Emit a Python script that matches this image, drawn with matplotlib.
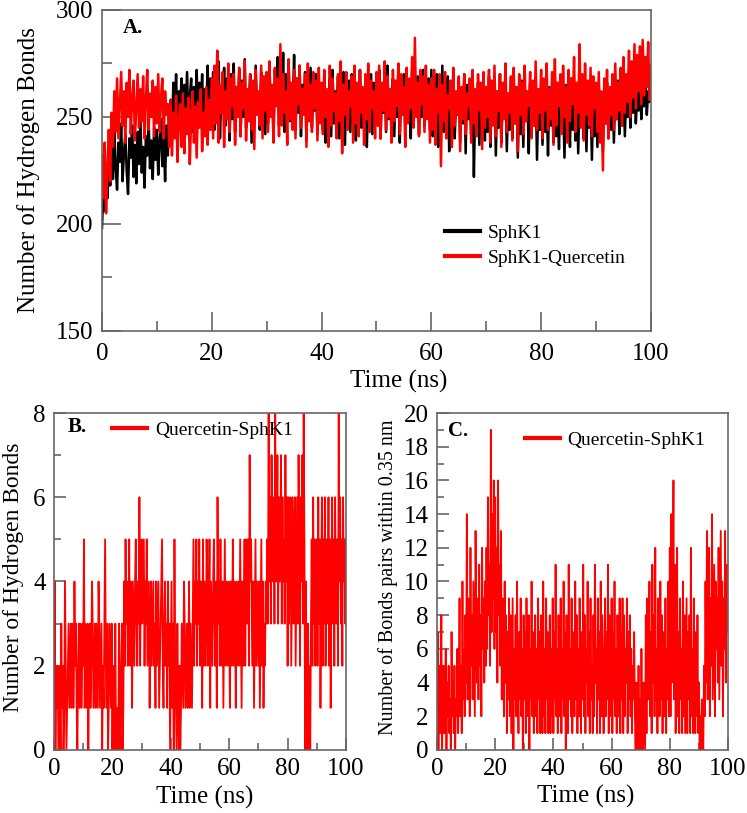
import numpy as np
import matplotlib.pyplot as plt
from matplotlib.ticker import MultipleLocator

plt.rcParams["font.family"] = ["Liberation Serif", "DejaVu Serif"]

# Panel A - number of hydrogen bonds of the protein (~0.25 ns apart)
sphk1_hb = [
    198, 215, 206, 224, 212, 229, 218, 236, 221, 244, 226, 216, 238, 229, 247, 220, 233, 242, 225, 214,
    240, 231, 246, 222, 237, 219, 243, 228, 250, 224, 236, 217, 241, 232, 248, 226, 239, 221, 245, 230,
    244, 223, 238, 249, 227, 241, 220, 246, 232, 252, 258, 240, 266, 249, 270, 244, 262, 255, 268, 241,
    265, 250, 271, 246, 259, 268, 243, 264, 252, 272, 247, 266, 255, 270, 242, 263, 251, 274, 245, 268,
    250, 271, 244, 266, 256, 276, 240, 262, 252, 273, 246, 268, 258, 239, 270, 249, 275, 243, 264, 254,
    272, 241, 267, 250, 277, 245, 262, 255, 270, 238, 266, 248, 274, 252, 261, 244, 271, 256, 268, 242,
    269, 247, 275, 253, 264, 240, 272, 257, 278, 246, 266, 251, 280, 243, 270, 258, 276, 248, 263, 254,
    279, 244, 268, 252, 274, 241, 265, 256, 271, 239, 267, 249, 273, 245, 262, 253, 270, 242, 266, 250,
    264, 244, 270, 238, 259, 250, 268, 241, 272, 247, 262, 253, 269, 240, 266, 248, 271, 237, 260, 252,
    267, 243, 270, 249, 258, 239, 265, 254, 272, 245, 263, 250, 268, 236, 261, 247, 270, 242, 266, 251,
    269, 246, 272, 240, 263, 252, 270, 243, 274, 249, 261, 255, 268, 241, 266, 250, 273, 238, 264, 253,
    270, 245, 267, 251, 262, 240, 271, 248, 265, 254, 269, 242, 263, 250, 272, 246, 260, 253, 268, 244,
    272, 241, 266, 250, 270, 236, 262, 248, 274, 243, 264, 252, 269, 234, 261, 246, 271, 240, 258, 251,
    267, 238, 263, 247, 270, 233, 265, 249, 260, 242, 268, 222, 259, 245, 266, 237, 263, 250, 270, 239,
    264, 243, 269, 236, 260, 248, 266, 232, 262, 245, 270, 238, 258, 250, 265, 234, 261, 244, 268, 240,
    257, 247, 264, 231, 260, 242, 267, 236, 262, 249, 258, 233, 266, 241, 260, 246, 263, 230, 259, 244,
    262, 237, 266, 243, 258, 232, 264, 246, 260, 238, 267, 241, 256, 235, 263, 248, 259, 231, 265, 242,
    261, 236, 268, 244, 257, 239, 264, 233, 260, 247, 266, 240, 258, 234, 262, 245, 259, 230, 264, 241,
    260, 236, 265, 243, 258, 234, 262, 247, 266, 240, 259, 244, 264, 238, 261, 249, 267, 242, 260, 246,
    265, 241, 262, 250, 268, 245, 263, 252, 266, 247, 261, 253, 268, 249, 264, 255, 267, 251, 262, 257,
    258,
]
complex_hb = [
    232, 212, 238, 205, 226, 244, 220, 252, 236, 262, 243, 268, 240, 256, 271, 246, 262, 238, 266, 250,
    272, 242, 259, 267, 239, 255, 270, 245, 263, 248, 269, 240, 258, 272, 244, 261, 250, 267, 241, 264,
    247, 270, 243, 259, 268, 240, 262, 251, 256, 236, 258, 232, 252, 240, 260, 229, 248, 256, 236, 261,
    233, 254, 242, 259, 228, 250, 262, 238, 255, 231, 257, 245, 263, 234, 252, 241, 264, 237, 258, 244,
    268, 240, 274, 247, 281, 238, 265, 252, 271, 236, 262, 249, 275, 243, 268, 255, 270, 237, 264, 250,
    273, 241, 266, 254, 276, 239, 263, 248, 270, 244, 267, 235, 272, 251, 262, 246, 274, 240, 269, 253,
    271, 243, 276, 250, 265, 238, 273, 255, 268, 241, 284, 246, 270, 252, 262, 237, 277, 249, 266, 244,
    272, 240, 268, 256, 274, 245, 263, 251, 270, 236, 275, 248, 265, 243, 271, 254, 267, 239, 273, 247,
    266, 242, 272, 250, 263, 236, 274, 246, 268, 253, 261, 240, 270, 248, 276, 233, 265, 251, 271, 244,
    262, 255, 269, 238, 274, 247, 266, 241, 272, 252, 264, 237, 270, 249, 275, 243, 267, 254, 262, 240,
    271, 246, 274, 240, 266, 253, 276, 244, 269, 250, 263, 238, 272, 248, 267, 255, 275, 242, 270, 251,
    264, 236, 273, 247, 268, 254, 278, 245, 287, 250, 266, 241, 272, 256, 269, 243, 274, 249, 265, 238,
    268, 244, 272, 237, 263, 252, 270, 227, 265, 248, 271, 240, 260, 254, 267, 236, 273, 246, 262, 251,
    269, 234, 264, 249, 270, 242, 261, 255, 268, 238, 272, 247, 263, 241, 270, 253, 266, 235, 271, 245,
    264, 250, 272, 238, 267, 246, 274, 241, 262, 253, 270, 236, 266, 249, 275, 243, 261, 252, 269, 239,
    273, 247, 264, 234, 270, 251, 266, 242, 274, 248, 262, 255, 271, 240, 267, 246, 276, 244, 263, 252,
    272, 240, 268, 253, 275, 244, 263, 249, 271, 237, 277, 246, 266, 255, 270, 242, 274, 250, 264, 238,
    272, 248, 268, 256, 278, 243, 266, 252, 284, 245, 270, 239, 275, 251, 267, 246, 273, 241, 269, 254,
    266, 243, 271, 238, 262, 225, 268, 247, 272, 240, 264, 251, 270, 244, 275, 249, 266, 253, 273, 246,
    278, 252, 270, 257, 281, 250, 276, 259, 284, 254, 279, 262, 283, 256, 286, 260, 278, 264, 285, 258,
    274,
]

# Panel B - quercetin/SphK1 hydrogen bonds (~0.25 ns apart)
lig_hb = [
    1, 4, 0, 2, 1, 2, 0, 1, 2, 0, 3, 1, 2, 0, 1, 4, 2, 0, 1, 2,
    3, 1, 2, 3, 1, 3, 2, 1, 4, 2, 3, 1, 0, 2, 3, 1, 3, 2, 1, 3,
    2, 5, 1, 3, 2, 1, 3, 0, 2, 3, 1, 2, 4, 3, 1, 2, 3, 1, 3, 2,
    1, 4, 3, 1, 2, 3, 0, 2, 1, 3, 5, 2, 1, 3, 0, 1, 3, 2, 1, 3,
    0, 2, 1, 0, 3, 0, 1, 0, 0, 3, 1, 0, 2, 3, 0, 1,
    4, 2, 5, 3, 4, 2, 3, 5, 2, 4, 3, 1, 4, 3, 2, 4, 5, 3, 2, 4, 3, 6, 2, 4,
    5, 3, 4, 5, 2, 4, 3, 5, 2, 3, 4, 1, 3, 4, 2, 3,
    4, 2, 3, 1, 4, 2, 3, 4, 1, 2, 3, 4, 5, 2, 1, 3, 4, 2, 3, 1, 4, 2, 3, 0,
    2, 4, 1, 3, 0, 5, 2, 1, 0, 3, 1, 0, 2, 0, 1, 3, 2, 1, 4, 3,
    1, 2, 3, 1, 2, 4, 1, 3, 2, 1, 3, 5, 2, 4, 3, 5, 2, 4, 3, 5,
    2, 4, 3, 1, 5, 2, 4, 3, 2, 5, 4, 2, 3, 5, 1, 4, 3, 2, 4, 5,
    3, 2, 4, 1, 6, 3, 4, 2, 5, 3, 2, 4, 1, 3, 5, 2, 4, 3, 2, 4,
    3, 1, 4, 2, 3, 5, 2, 4, 3, 1, 4, 2, 3, 4, 2, 5, 3, 1, 4, 2,
    3, 5, 2, 4, 5, 3, 5, 2, 7, 4, 5, 3, 2, 4, 1, 3, 5, 2, 4, 3,
    2, 4, 1, 3, 5, 2, 4, 1, 3, 2, 4, 3,
    5, 3, 8, 4, 6, 3, 7, 5, 4, 6, 3, 8, 5, 4, 7, 3, 6, 4, 5, 7, 3, 6, 4, 5, 3, 7, 4, 6,
    2, 6, 3, 5, 6, 2, 4, 6, 3, 5, 6, 2, 4, 6, 3, 7, 5, 2, 6, 4,
    7, 3, 8, 5, 0, 4, 1, 0, 3, 0, 2, 0, 3, 5, 2, 6, 3, 5, 2, 4,
    5, 2, 6, 3, 5, 1, 4, 6, 2, 5, 3, 6, 2, 4, 5, 3, 6, 2, 5, 1,
    4, 6, 3, 5, 2, 6, 4, 3, 5, 2, 8, 4, 6, 3, 5, 2, 6, 4, 5, 3,
    5,
]

# Panel C - atom pairs within 0.35 nm (~0.25 ns apart)
pairs_035 = [
    2, 7, 0, 5,
    1, 4, 8, 0, 3, 5, 1, 2, 6, 0, 4, 2, 5, 1, 3, 0, 7, 2, 4, 1, 5, 0, 3, 2,
    6, 1, 4, 9, 2, 5, 1, 10, 3, 6, 2, 8,
    4, 14, 3, 9, 6, 2, 12, 5, 8, 3, 10, 6, 2, 13, 7, 4, 9, 3, 11, 5, 8, 2, 12, 6, 9, 4, 10, 5,
    12, 6, 15, 8, 11, 5, 19, 7, 14, 9, 16, 6,
    15, 7, 12, 4, 16, 8, 11, 5,
    13, 3, 9, 6, 2, 10, 4, 8, 1, 7, 3, 9,
    2, 8, 1, 5, 9, 0, 6, 3, 8, 2, 10, 4, 1, 7, 3, 9, 2, 6, 0, 8,
    3, 7, 1, 9, 4, 2, 8, 0, 6, 3, 10, 2, 7, 1, 5, 8, 2, 6, 1, 9,
    3, 7, 1, 8, 4, 1, 10, 2, 6, 1, 9, 3, 7, 1, 5, 8, 1, 6, 2, 9,
    1, 7, 3, 11, 2, 6, 1, 8, 4, 2, 9, 1, 6, 3, 10, 2, 7, 0, 8, 4,
    1, 11, 3, 6, 2, 9, 1, 7, 4, 2, 10, 3, 8, 1, 6, 2, 9, 4, 1, 7,
    3, 11, 2, 8, 1, 6, 4, 10, 2, 7, 1, 9, 3, 5, 1, 8, 2, 11, 4, 6,
    1, 9, 3, 7, 1, 10, 2, 8, 4, 1, 6, 9, 2, 7, 3, 11, 1, 8, 5, 2,
    9, 1, 7, 3, 10, 2, 6, 1, 8, 4, 2, 9, 1, 7, 3, 9, 1, 8, 2, 6,
    4, 9, 1, 7, 3, 8, 2, 6, 1, 5, 3, 7,
    2, 0, 4, 1, 0, 5, 0, 3,
    0, 6, 1, 0, 4, 2, 0, 8,
    1, 9, 3, 6, 10, 2, 7, 1, 11, 4, 8, 2, 12, 3, 6, 1, 9, 5, 2, 10,
    3, 8, 1, 7, 4, 2, 9, 1, 6, 3, 10, 2,
    12, 2, 14, 4, 9, 16, 3, 11, 1, 8, 12, 2,
    7, 1, 9, 3, 6, 1, 10, 2, 8, 1, 5, 9, 1, 7, 3, 8, 1, 12, 2, 6,
    1, 9, 4, 1, 7, 2, 8, 1,
    4, 0, 2, 0, 3, 1, 0, 5,
    2, 10, 4, 13, 3, 8, 12, 2, 9, 5, 14, 3, 7, 11, 2, 10, 6, 9, 4, 12,
    3, 8, 13, 5, 10, 2, 9, 6, 13, 4, 11, 7, 9,
]

labels_a = ["SphK1", "SphK1-Quercetin"]
label_bc = "Quercetin-SphK1"

SPINE = "#666666"
RED = "#ff0000"


def style_axes(ax, xmaj, xmin, ymaj, ymin, maj_len, min_len, xpad=6):
    for s in ax.spines.values():
        s.set_color(SPINE)
        s.set_linewidth(1.2)
    ax.xaxis.set_major_locator(MultipleLocator(xmaj))
    ax.xaxis.set_minor_locator(MultipleLocator(xmin))
    ax.yaxis.set_major_locator(MultipleLocator(ymaj))
    ax.yaxis.set_minor_locator(MultipleLocator(ymin))
    ax.tick_params(which="both", direction="in", top=False, right=False,
                   color=SPINE, width=1.2, labelsize=18, pad=6)
    ax.tick_params(axis="x", which="both", pad=xpad)
    ax.tick_params(which="major", length=maj_len)
    ax.tick_params(which="minor", length=min_len)


def add_legend(ax, anchor, spacing=0.25):
    leg = ax.legend(loc="upper left", bbox_to_anchor=anchor, frameon=False,
                    fontsize=14, handlelength=1.8, handletextpad=0.4,
                    labelspacing=spacing, borderpad=0, borderaxespad=0)
    for ln in leg.get_lines():
        ln.set_linewidth(3)


fig = plt.figure(figsize=(7.47, 8.13), dpi=100)

# ---- A ----
ax_a = fig.add_axes([0.1365, 0.5929, 0.7349, 0.3948])
t_a = np.linspace(0, 100, len(sphk1_hb))
ax_a.plot(t_a, sphk1_hb, color="black", lw=1.8, label=labels_a[0])
ax_a.plot(t_a, complex_hb, color=RED, lw=1.8, label=labels_a[1])
ax_a.set_xlim(0, 100)
ax_a.set_ylim(150, 300)
style_axes(ax_a, 20, 10, 50, 25, 13.5, 7, xpad=8.5)
ax_a.set_xlabel("Time (ns)", fontsize=18)
ax_a.xaxis.set_label_coords(0.541, -0.121)
ax_a.set_ylabel("Number of Hydrogen Bonds", fontsize=18)
ax_a.yaxis.set_label_coords(-0.113, 0.50)
ax_a.text(0.038, 0.944, "A.", transform=ax_a.transAxes, fontsize=15,
          fontweight="bold", va="center", ha="left")
add_legend(ax_a, (0.625, 0.333), spacing=0.4)

# ---- B ----
ax_b = fig.add_axes([0.0723, 0.0775, 0.3909, 0.4145])
t_b = np.linspace(0, 100, len(lig_hb))
ax_b.plot(t_b, lig_hb, color=RED, lw=1.3, label=label_bc)
ax_b.set_xlim(0, 100)
ax_b.set_ylim(0, 8)
style_axes(ax_b, 20, 10, 2, 1, 8.6, 5)
ax_b.set_xlabel("Time (ns)", fontsize=18)
ax_b.xaxis.set_label_coords(0.517, -0.107)
ax_b.set_ylabel("Number of Hydrogen Bonds", fontsize=17)
ax_b.yaxis.set_label_coords(-0.103, 0.513)
ax_b.text(0.045, 0.958, "B.", transform=ax_b.transAxes, fontsize=15,
          fontweight="bold", va="center", ha="left")
add_legend(ax_b, (0.199, 0.976))

# ---- C ----
ax_c = fig.add_axes([0.5850, 0.0775, 0.3896, 0.4145])
t_c = np.linspace(0, 100, len(pairs_035))
ax_c.plot(t_c, pairs_035, color=RED, lw=1.3, label=label_bc)
ax_c.set_xlim(0, 100)
ax_c.set_ylim(0, 20)
style_axes(ax_c, 20, 10, 2, 1, 8.6, 5)
ax_c.set_xlabel("Time (ns)", fontsize=18)
ax_c.xaxis.set_label_coords(0.512, -0.104)
ax_c.set_ylabel("Number of Bonds pairs within 0.35 nm", fontsize=14.5)
ax_c.yaxis.set_label_coords(-0.134, 0.512)
ax_c.text(0.038, 0.947, "C.", transform=ax_c.transAxes, fontsize=15,
          fontweight="bold", va="center", ha="left")
add_legend(ax_c, (0.302, 0.946))

fig.savefig("out.png", dpi=100)
